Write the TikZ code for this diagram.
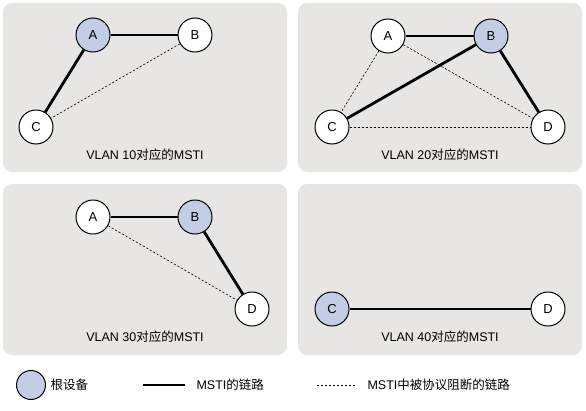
\documentclass[tikz,border=0pt]{standalone}
\usepackage{fontspec}
\setmainfont{Liberation Sans}
\newfontfamily\cjk{Noto Sans CJK SC}
\usetikzlibrary{positioning}
\definecolor{panelBg}{HTML}{E8E6E4}
\definecolor{rootFill}{HTML}{C3CDE4}

\begin{document}
\begin{tikzpicture}[x=1pt, y=-1pt, every node/.style={font=\fontsize{12.5}{14}\selectfont},
  panel/.style={fill=panelBg, draw=none, rounded corners=9pt},
  dev/.style={circle, draw=black, line width=1pt, fill=white, minimum size=34pt, inner sep=0pt, font=\fontsize{13}{15}\selectfont},
  root/.style={dev, fill=rootFill},
  link/.style={line width=2.8pt},
  blocked/.style={line width=0.6pt, dash pattern=on 2.2pt off 1.8pt}]
\useasboundingbox (0,0) rectangle (586,410);
% four panels
\fill[panel] (3,3) rectangle (287,172);
\fill[panel] (298,3) rectangle (582,172);
\fill[panel] (3,184) rectangle (287,355);
\fill[panel] (298,184) rectangle (582,355);

% VLAN 10
\node[root] (a1) at (93,35) {A};
\node[dev] (b1) at (195,35) {B};
\node[dev] (c1) at (36,127) {C};
\draw[link] (a1) -- (b1); \draw[link] (a1) -- (c1);
\draw[blocked] (b1) -- (c1);
\node (t1) at (145,155) {VLAN 10{\cjk 对应的}MSTI};

% VLAN 20
\node[dev] (a2) at (388,36) {A};
\node[root] (b2) at (491,36) {B};
\node[dev] (c2) at (332,127) {C};
\node[dev] (d2) at (548,127) {D};
\draw[link] (a2) -- (b2); \draw[link] (b2) -- (c2); \draw[link] (b2) -- (d2);
\draw[blocked] (a2) -- (c2); \draw[blocked] (a2) -- (d2); \draw[blocked] (c2) -- (d2);
\node (t2) at (440,155) {VLAN 20{\cjk 对应的}MSTI};

% VLAN 30
\node[dev] (a3) at (93,217) {A};
\node[root] (b3) at (195,217) {B};
\node[dev] (d3) at (252,309) {D};
\draw[link] (a3) -- (b3); \draw[link] (b3) -- (d3);
\draw[blocked] (a3) -- (d3);
\node (t3) at (145,337) {VLAN 30{\cjk 对应的}MSTI};

% VLAN 40
\node[root] (c4) at (332,309) {C};
\node[dev] (d4) at (548,309) {D};
\draw[link] (c4) -- (d4);
\node (t4) at (440,337) {VLAN 40{\cjk 对应的}MSTI};

% legend
\node[root, minimum size=29pt] (lroot) at (31,385) {};
\node[right=1pt of lroot] (lrootTxt) {\cjk 根设备};
\coordinate (ls1) at (143,385); \coordinate (ls2) at (185,385);
\draw[link] (ls1) -- (ls2);
\node[anchor=west] (llinkTxt) at (193,385) {MSTI{\cjk 的链路}};
\coordinate (lb1) at (317,385); \coordinate (lb2) at (355,385);
\draw[blocked] (lb1) -- (lb2);
\node[anchor=west] (lblockTxt) at (364,385) {MSTI{\cjk 中被协议阻断的链路}};
\end{tikzpicture}
\end{document}
